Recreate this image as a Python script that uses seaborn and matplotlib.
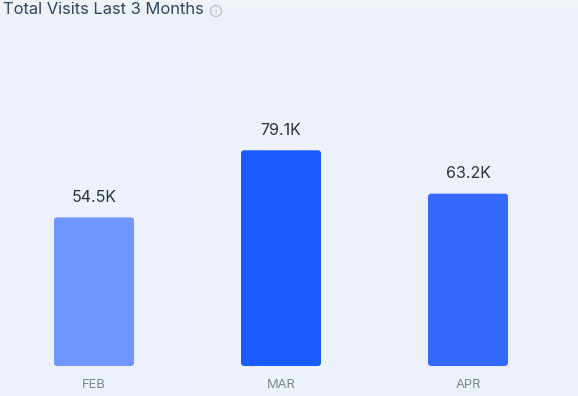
import numpy as np
import pandas as pd
import matplotlib
matplotlib.use("Agg")
import matplotlib.pyplot as plt
from matplotlib.patches import FancyBboxPatch, Circle
import seaborn as sns

months = ["FEB", "MAR", "APR"]
visits = [54.5, 79.1, 63.2]
value_labels = ["54.5K", "79.1K", "63.2K"]
bar_colors = ["#7096FF", "#1A5CFF", "#3369FF"]
title = "Total Visits Last 3 Months"

W, H = 578, 396
sns.set_theme(style="white")
plt.rcParams["font.family"] = ["Inter", "DejaVu Sans"]

fig = plt.figure(figsize=(W / 100, H / 100), dpi=100, facecolor="#EBF1FB")

# Page background gradient
bg = fig.add_axes([0, 0, 1, 1], zorder=0)
gy, gx = np.mgrid[0:1:100j, 0:1:100j]
top = np.clip(1 - gy / 0.1, 0, 1)
base = np.array([0xEC, 0xF2, 0xFC]) * (1 - gx[..., None]) + np.array([0xED, 0xF1, 0xF9]) * gx[..., None]
band = np.array([0xEF, 0xF2, 0xF7])
img = base * (1 - top[..., None]) + band * top[..., None]
bg.imshow(img / 255, extent=[0, 1, 0, 1], origin="upper", aspect="auto")
bg.axis("off")

# Plot axes: baseline at pixel y=366, top at pixel y=30
ax = fig.add_axes([0, (H - 366) / H, 1, (366 - 30) / H], zorder=1)
ax.patch.set_alpha(0)
df = pd.DataFrame({"month": months, "visits": visits})
sns.barplot(data=df, x="month", y="visits", hue="month", palette=bar_colors,
            legend=False, width=80 / 187, ax=ax, saturation=1)

ax.set_xlim(-94 / 187, (W - 94) / 187)
ypp = 1 / 2.727
ax.set_ylim(0, 336 * ypp)

xpp = 1 / 187
r = 3 * xpp
for patch, color, label in zip(list(ax.patches), bar_colors, value_labels):
    x0, w, h = patch.get_x(), patch.get_width(), patch.get_height()
    patch.set_visible(False)
    ax.add_patch(FancyBboxPatch((x0, 0), w, h, boxstyle=f"round,pad=0,rounding_size={r}",
                                mutation_aspect=ypp / xpp, fc=color, ec="none"))
    ax.annotate(label, (x0 + w / 2, h), xytext=(0, 12.5), textcoords="offset pixels",
                ha="center", va="bottom", fontsize=11.5, color="#2B3240")

ax.set_xlabel("")
ax.set_ylabel("")
ax.set_yticks([])
ax.set_xticks(range(3), months)
ax.tick_params(axis="x", length=0, pad=9, labelsize=9.3, labelcolor="#7A8794")
sns.despine(ax=ax, left=True, bottom=True)

fig.text(3 / W, 1 - 10 / H, title, ha="left", va="center", fontsize=11.9, color="#2F4560")

# Info icon
ic = fig.add_axes([0, 0, 1, 1], zorder=2)
ic.set_xlim(0, W); ic.set_ylim(H, 0); ic.axis("off")
ic.add_patch(Circle((216, 11), 5.5, fc="none", ec="#B9C2CC", lw=1))
ic.text(216, 11, "i", ha="center", va="center", fontsize=6.5, color="#B0BAC6")

fig.savefig("out.png", dpi=100, facecolor=fig.get_facecolor())
